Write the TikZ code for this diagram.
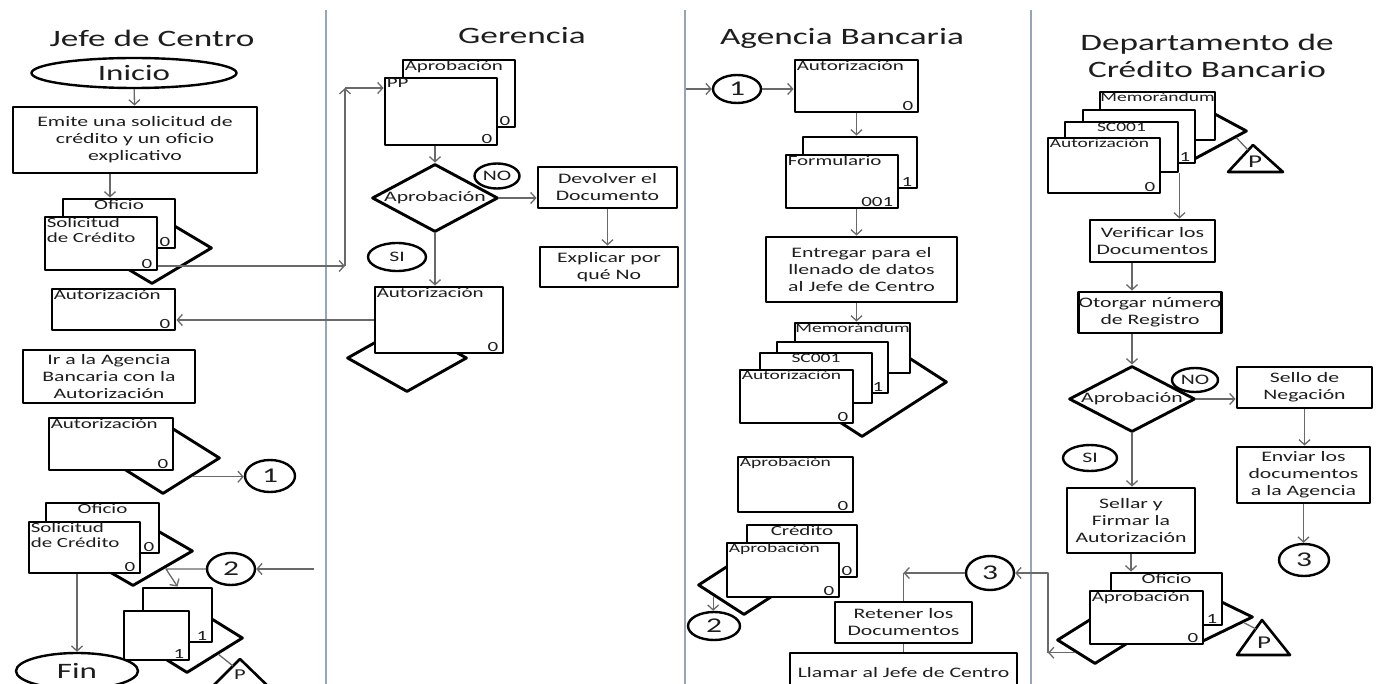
\documentclass[tikz,border=0pt]{standalone}
\usepackage{fontspec}
\setmainfont{Carlito}[FakeStretch=1.5]
\usetikzlibrary{arrows.meta,shapes.geometric,calc}
\definecolor{txt}{RGB}{30,30,30}
\definecolor{flecha}{RGB}{105,105,105}
\definecolor{griscarril}{RGB}{150,166,182}
\newcommand{\ftit}{\fontsize{23.5}{27.5}\selectfont}
\newcommand{\fproc}{\fontsize{14.5}{17}\selectfont}
\newcommand{\fdoc}{\fontsize{14}{15.5}\selectfont}
\newcommand{\fsdoc}{\fontsize{13}{15}\selectfont}
\newcommand{\fbig}{\fontsize{22}{26}\selectfont}
\newcommand{\fcirc}{\fontsize{21}{25}\selectfont}
\newcommand{\fpe}{\fontsize{18}{20}\selectfont}

\begin{document}
\begin{tikzpicture}[x=1pt,y=-1pt,>={Straight Barb[length=5pt,width=11pt]},
                    line join=round]
  \tikzstyle{proc}=[rectangle,draw=black,line width=2.9pt,fill=white,align=center,
                    text=txt,font=\fproc,inner sep=0pt]
  \tikzstyle{doc}=[rectangle,draw=black,line width=2.9pt,fill=white,inner sep=0pt]
  \tikzstyle{arch}=[diamond,draw=black,line width=2.9pt,fill=white,inner sep=0pt]
  \tikzstyle{conn}=[ellipse,draw=black,line width=2.4pt,fill=white,inner sep=0pt,text=txt]
  \tikzstyle{dl}=[anchor=north west,inner xsep=3pt,inner ysep=2pt,font=\fdoc,text=txt,align=left]
  \tikzstyle{dc}=[anchor=north,inner sep=2pt,font=\fdoc,text=txt]
  \tikzstyle{dn}=[anchor=south east,inner xsep=6pt,inner ysep=3pt,font=\fdoc,text=txt]
  \tikzstyle{dtx}=[anchor=center,font=\fproc,text=txt]
  \tikzstyle{flujo}=[->,draw=flecha,line width=1.3pt]
  \tikzstyle{linea}=[draw=flecha,line width=1.3pt]
  \tikzstyle{carril}=[draw=griscarril,line width=2pt]
  \tikzstyle{tri}=[draw=black,line width=2.6pt,fill=white]

  \useasboundingbox (0,0) rectangle (1380,684);
  \clip (0,0) rectangle (1380,684);

  % carriles
  \draw[carril] (326,10) -- (326,684);
  \draw[carril] (685,10) -- (685,684);
  \draw[carril] (1031,10) -- (1031,684);

  % Jefe de Centro
  \node[font=\ftit,text=txt] (j_tit) at (152,38) {Jefe de Centro};
  \node[conn,minimum width=205,minimum height=30,font=\fbig] (j_ini) at (134,73) {Inicio};
  \node[proc,minimum width=244,minimum height=66] (j_emi) at (135,140)
       {Emite una solicitud de\\crédito y un oficio\\explicativo};
  \node[arch,minimum width=120,minimum height=72] (j_arch1) at (152,248) {};
  \node[doc,minimum width=112,minimum height=49,label={[dc]north:Oficio},
        label={[dn]south east:0}] (j_of1) at (119,223.5) {};
  \node[doc,minimum width=112,minimum height=53,label={[dl]north west:Solicitud\\de Crédito},
        label={[dn]south east:0}] (j_sol1) at (101,243.5) {};
  \node[doc,minimum width=123,minimum height=41,label={[dl]north west:Autorización},
        label={[dn]south east:0}] (j_aut1) at (113.5,309.5) {};
  \node[proc,minimum width=172,minimum height=53] (j_ir) at (109,376.5)
       {Ir a la Agencia\\Bancaria con la\\Autorización};
  \node[arch,minimum width=114,minimum height=72] (j_arch2) at (163,458) {};
  \node[doc,minimum width=124,minimum height=52,label={[dl]north west:Autorización},
        label={[dn]south east:0}] (j_aut2) at (111,444) {};
  \node[conn,minimum width=50,minimum height=32,font=\fcirc] (j_c1) at (270,476) {1};
  \node[arch,minimum width=120,minimum height=70] (j_arch3) at (133,551) {};
  \node[doc,minimum width=113,minimum height=50,label={[dc]north:Oficio},
        label={[dn]south east:0}] (j_of2) at (102.5,528) {};
  \node[doc,minimum width=111,minimum height=51,label={[dl]north west:Solicitud\\de Crédito},
        label={[dn]south east:0}] (j_sol2) at (84.5,547.5) {};
  \node[conn,minimum width=48,minimum height=32,font=\fcirc] (j_c2) at (231,569) {2};
  \node[arch,minimum width=112,minimum height=70] (j_arch4) at (187,638) {};
  \node[doc,minimum width=69,minimum height=54,label={[dn]south east:1}] (j_d1) at (177.5,615) {};
  \node[doc,minimum width=65,minimum height=49,label={[dn]south east:1}] (j_d2) at (156.5,635.5) {};
  \draw[tri] (207,692) -- (240,659) -- (274,692) -- cycle;
  \node[font=\fontsize{15}{17}\selectfont,text=txt] (j_pt) at (240,675) {P};
  \coordinate (j_pk) at (233,666);
  \node[conn,minimum width=122,minimum height=36,font=\fbig] (j_fin) at (77,671) {Fin};

  % Gerencia
  \node[font=\ftit,text=txt] (g_tit) at (522,36) {Gerencia};
  \node[doc,minimum width=112,minimum height=67,label={[dl]north west:Aprobación},
        label={[dn]south east:0}] (g_ap) at (459,93.5) {};
  \node[doc,minimum width=112,minimum height=67,label={[dl]north west:PP},
        label={[dn]south east:0}] (g_pp) at (441,111.5) {};
  \node[arch,minimum width=126,minimum height=68,label={[dtx]center:Aprobación}] (g_dec) at (435,198) {};
  \node[conn,minimum width=45,minimum height=25,font=\fproc] (g_no) at (497,176) {NO};
  \node[proc,minimum width=139,minimum height=41] (g_dev) at (607.5,187.5) {Devolver el\\Documento};
  \node[proc,minimum width=138,minimum height=40] (g_exp) at (609,267) {Explicar por\\qué No};
  \node[conn,minimum width=58,minimum height=28,font=\fproc] (g_si) at (397,257) {SI};
  \node[arch,minimum width=120,minimum height=68] (g_arch) at (407,358) {};
  \node[doc,minimum width=128,minimum height=66,label={[dl]north west:Autorización},
        label={[dn]south east:0}] (g_aut) at (439,320) {};

  % Agencia Bancaria
  \node[font=\ftit,text=txt] (a_tit) at (842,38) {Agencia Bancaria};
  \node[conn,minimum width=48,minimum height=28,font=\fcirc] (a_c1) at (737,89) {1};
  \node[doc,minimum width=123,minimum height=52,label={[dl]north west:Autorización},
        label={[dn]south east:0}] (a_aut) at (856.5,86) {};
  \node[doc,minimum width=114,minimum height=51,label={[dn]south east:1}] (a_forb) at (860,162.5) {};
  \node[doc,minimum width=112,minimum height=53,label={[dl]north west:Formulario},
        label={[dn]south east:001}] (a_forf) at (842,181.5) {};
  \node[proc,minimum width=191,minimum height=65] (a_ent) at (861.5,269.5)
       {Entregar para el\\llenado de datos\\al Jefe de Centro};
  \node[arch,minimum width=170,minimum height=110] (a_arch) at (862,382) {};
  \node[doc,minimum width=115,minimum height=50,label={[dc,font=\fsdoc]north:Memorándum}] (a_mem) at (852.5,348) {};
  \node[doc,minimum width=111,minimum height=51,label={[dn]south east:1}] (a_d2) at (832.5,367.5) {};
  \node[doc,minimum width=112,minimum height=50,label={[dc,font=\fsdoc]north:SC001}] (a_sc) at (816,378) {};
  \node[doc,minimum width=113,minimum height=53,label={[dl,font=\fsdoc]north west:Autorización},
        label={[dn]south east:0}] (a_aut2) at (796.5,396.5) {};
  \node[doc,minimum width=115,minimum height=55,label={[dl,font=\fsdoc]north west:Aprobación},
        label={[dn]south east:0}] (a_apr) at (795.5,484.5) {};
  \node[arch,minimum width=92,minimum height=60] (a_arch2) at (744,585) {};
  \node[doc,minimum width=110,minimum height=52,label={[dc]north:Crédito},
        label={[dn]south east:0}] (a_cred) at (802,551) {};
  \node[doc,minimum width=112,minimum height=54,label={[dl,font=\fsdoc]north west:Aprobación},
        label={[dn]south east:0}] (a_apr2) at (783,570) {};
  \node[conn,minimum width=52,minimum height=28,font=\fcirc] (a_c2) at (714,626) {2};
  \node[conn,minimum width=48,minimum height=34,font=\fcirc] (a_c3) at (990,573) {3};
  \node[proc,minimum width=137,minimum height=41] (a_ret) at (903.5,622.5) {Retener los\\Documentos};
  \node[proc,minimum width=227,minimum height=39] (a_lla) at (903.5,672.5) {Llamar al Jefe de Centro};

  % Departamento de Credito Bancario
  \node[font=\ftit,text=txt,align=center] (d_tit) at (1207,56) {Departamento de\\Crédito Bancario};
  \node[arch,minimum width=118,minimum height=64] (d_arch) at (1188,131) {};
  \node[doc,minimum width=115,minimum height=48,label={[dc,font=\fsdoc]north:Memorándum}] (d_mem) at (1157.5,116) {};
  \node[doc,minimum width=112,minimum height=53,label={[dn]south east:1}] (d_d2) at (1139,136.5) {};
  \node[doc,minimum width=113,minimum height=50,label={[dc,font=\fsdoc]north:SC001}] (d_sc) at (1121.5,147) {};
  \node[doc,minimum width=112,minimum height=55,label={[dl,font=\fsdoc]north west:Autorización},
        label={[dn]south east:0}] (d_aut) at (1104,165.5) {};
  \draw[tri] (1228,172) -- (1253,145) -- (1283,172) -- cycle;
  \node[font=\fpe,text=txt] (d_pt) at (1255,162) {P};
  \coordinate (d_pk) at (1248,150);
  \node[proc,minimum width=125,minimum height=42] (d_ver) at (1152.5,241) {Verificar los\\Documentos};
  \node[proc,minimum width=124,minimum height=41] (d_otg) at (1150,312.5) {Otorgar número\\de Registro};
  \node[arch,minimum width=126,minimum height=66,label={[dtx]center:Aprobación}] (d_dec) at (1132,399) {};
  \node[conn,minimum width=46,minimum height=24,font=\fproc] (d_no) at (1195,380) {NO};
  \node[proc,minimum width=135,minimum height=41] (d_sel) at (1304.5,387.5) {Sello de\\Negación};
  \node[proc,minimum width=133,minimum height=56] (d_env) at (1303.5,475)
       {Enviar los\\documentos\\a la Agencia};
  \node[conn,minimum width=50,minimum height=32,font=\fcirc] (d_c3) at (1304,560) {3};
  \node[conn,minimum width=54,minimum height=26,font=\fproc] (d_si) at (1090,458) {SI};
  \node[proc,minimum width=128,minimum height=65] (d_sell) at (1131,520.5)
       {Sellar y\\Firmar la\\Autorización};
  \node[arch,minimum width=106,minimum height=52] (d_arch2) at (1200,617) {};
  \node[arch,minimum width=76,minimum height=48] (d_arch3) at (1095,640) {};
  \node[doc,minimum width=111,minimum height=52,label={[dc]north:Oficio},
        label={[dn]south east:1}] (d_of) at (1166.5,599) {};
  \node[doc,minimum width=113,minimum height=53,label={[dl]north west:Aprobación},
        label={[dn]south east:0}] (d_apr) at (1146.5,617.5) {};
  \draw[tri] (1237,655) -- (1262,620) -- (1290,655) -- cycle;
  \node[font=\fpe,text=txt] (d_pt2) at (1264,643) {P};
  \coordinate (d_pk2) at (1256,629);

  % flechas Jefe de Centro
  \draw[flujo] (j_ini) -- (j_emi);
  \draw[flujo] ([xshift=-25pt]j_emi.south) -- ([xshift=-25pt]j_emi.south |- j_of1.north);
  \coordinate (j_k1) at (345,266);
  \coordinate (j_k2) at (345,88);
  \draw[flujo] (j_sol1.east |- j_k1) -- (j_k1);
  \draw[flujo] (j_k1) -- (j_k2);
  \draw[flujo] (j_k2) -- (j_k2 -| g_pp.west);
  \draw[flujo] (g_aut.west) -- (g_aut.west -| j_aut1.east);
  \coordinate (j_k3) at ($(j_arch2.east)!0.5!(j_arch2.south)$);
  \draw[flujo] (j_k3) -- (j_k3 -| j_c1.west);
  \coordinate (j_k4) at (314,569);
  \draw[flujo] (j_k4) -- (j_c2.east);
  \coordinate (j_k5) at (166,569);
  \draw[flujo] (j_c2.west) -- (j_k5) -- (j_d1.north);
  \draw[flujo] (j_fin.north |- j_sol2.south) -- (j_fin.north);
  \draw[linea] ($(j_arch4.east)!0.45!(j_arch4.south)$) -- (j_pk);

  % flechas Gerencia
  \draw[flujo] (g_dec.north |- g_pp.south) -- (g_dec.north);
  \draw[flujo] (g_dec.east) -- (g_dec.east -| g_dev.west);
  \draw[flujo] (g_dev.south) -- (g_dev.south |- g_exp.north);
  \draw[flujo] (g_dec.south) -- (g_dec.south |- g_aut.north);

  % flechas Agencia Bancaria
  \coordinate (a_k1) at (686,89);
  \draw[flujo] (a_k1) -- (a_c1.west);
  \draw[flujo] (a_c1.east) -- (a_c1.east -| a_aut.west);
  \draw[flujo] (a_aut.south) -- (a_aut.south |- a_forb.north);
  \draw[flujo] (a_aut.south |- a_forf.south) -- (a_aut.south |- a_ent.north);
  \draw[flujo] (a_aut.south |- a_ent.south) -- (a_aut.south |- a_mem.north);
  \coordinate (a_k2) at ($(a_arch2.west)!0.35!(a_arch2.south)$);
  \draw[flujo] (a_k2) -- (a_k2 |- a_c2.north);
  \draw[flujo] (a_c3.west) -- (a_c3.west -| a_ret.north);
  \draw[linea] (a_c3.west -| a_ret.north) -- (a_ret.north);
  \draw[linea] (a_ret.south) -- (a_ret.south |- a_lla.north);

  % flechas Departamento
  \draw[flujo] (d_sc.south east) -- (d_sc.south east |- d_ver.north);
  \draw[flujo] (d_dec.north |- d_ver.south) -- (d_dec.north |- d_otg.north);
  \draw[flujo] (d_dec.north |- d_otg.south) -- (d_dec.north);
  \draw[flujo] (d_dec.east) -- (d_dec.east -| d_sel.west);
  \draw[flujo] (d_sel.south) -- (d_sel.south |- d_env.north);
  \draw[flujo] (d_env.south) -- (d_env.south |- d_c3.north);
  \draw[flujo] (d_dec.south) -- (d_dec.south |- d_sell.north);
  \draw[flujo] (d_sell.south) -- (d_sell.south |- d_of.north);
  \draw[linea] ($(d_arch.east)!0.2!(d_arch.south)$) -- (d_pk);
  \draw[linea] ($(d_arch2.east)!0.2!(d_arch2.south)$) -- (d_pk2);
  \coordinate (d_k1) at ($(d_arch3.west)!0.5!(d_arch3.south)$);
  \coordinate (d_k2) at (1048,573);
  \draw[flujo] (d_k1) -- (d_k1 -| d_k2);
  \draw[flujo] (d_k1 -| d_k2) -- (d_k2) -- (a_c3.east);
\end{tikzpicture}
\end{document}
